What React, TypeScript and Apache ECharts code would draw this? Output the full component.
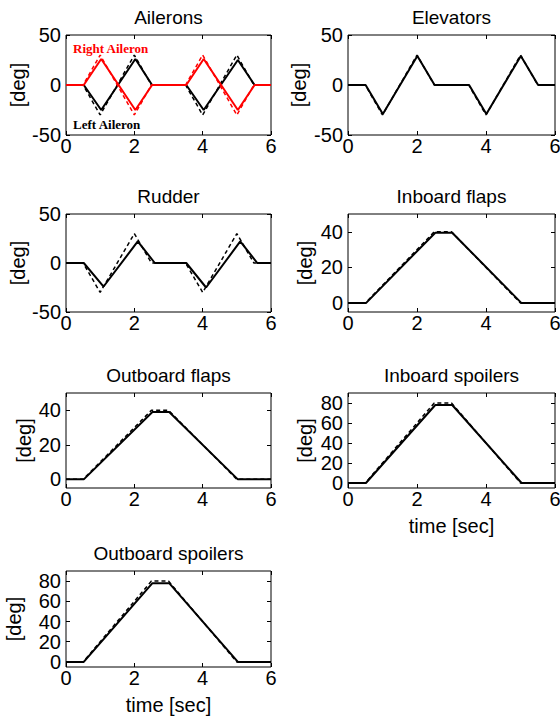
import React, { useEffect, useRef } from "react";
import * as echarts from "echarts";

// ---------------- data ----------------
const xTicks = [0, 2, 4, 6];
const tickSym = [-50, 0, 50];
const tickFlap = [0, 20, 40];
const tickSpoiler = [0, 20, 40, 60, 80];

// commanded surface deflections (dashed) and responses (solid)
const tCmdCycle = [0, 0.5, 1, 2, 2.5, 3.5, 4, 5, 5.5, 6];
const leftAileronCmd = [0, 0, -30, 30, 0, 0, -30, 30, 0, 0];
const rightAileronCmd = [0, 0, 30, -30, 0, 0, 30, -30, 0, 0];
const tAileronAct = [0, 0.52, 1.03, 2.03, 2.52, 3.52, 4.03, 5.03, 5.52, 6];
const leftAileronAct = [0, 0, -25, 26, 0, 0, -25, 25, 0, 0];
const rightAileronAct = [0, 0, 26, -25, 0, 0, 26, -25, 0, 0];

const elevatorCmd = [0, 0, -30, 30, 0, 0, -30, 30, 0, 0];
const tElevatorAct = [0, 0.51, 1.01, 2.01, 2.51, 3.51, 4.01, 5.01, 5.51, 6];
const elevatorAct = [0, 0, -29, 29, 0, 0, -29, 29, 0, 0];

const rudderCmd = [0, 0, -30, 30, 0, 0, -30, 30, 0, 0];
const tRudderAct = [0, 0.52, 1.1, 2.1, 2.6, 3.52, 4.1, 5.1, 5.6, 6];
const rudderAct = [0, 0, -24, 22, 0, 0, -25, 22, 0, 0];

const tRampCmd = [0, 0.5, 2.5, 3, 5, 6];
const tRampAct = [0, 0.52, 2.53, 3.02, 5.03, 6];
const inboardFlapCmd = [0, 0, 40, 40, 0, 0];
const inboardFlapAct = [0, 0, 39.5, 39.5, 0, 0];
const outboardFlapCmd = [0, 0, 40, 40, 0, 0];
const outboardFlapAct = [0, 0, 39, 39, 0, 0];
const inboardSpoilerCmd = [0, 0, 80, 80, 0, 0];
const inboardSpoilerAct = [0, 0, 78, 78, 0, 0];
const outboardSpoilerCmd = [0, 0, 80, 80, 0, 0];
const outboardSpoilerAct = [0, 0, 78, 78, 0, 0];

const titles = [
  "Ailerons",
  "Elevators",
  "Rudder",
  "Inboard flaps",
  "Outboard flaps",
  "Inboard spoilers",
  "Outboard spoilers",
];
const yLabel = "[deg]";
const xLabel = "time [sec]";

type S = { t: number[]; v: number[]; color: string; dashed: boolean };
const BLACK = "#000000";
const RED = "#ff0000";

const panels: { yMin: number; yMax: number; yTicks: number[]; series: S[] }[] = [
  {
    yMin: -50, yMax: 50, yTicks: tickSym,
    series: [
      { t: tCmdCycle, v: leftAileronCmd, color: BLACK, dashed: true },
      { t: tAileronAct, v: leftAileronAct, color: BLACK, dashed: false },
      { t: tCmdCycle, v: rightAileronCmd, color: RED, dashed: true },
      { t: tAileronAct, v: rightAileronAct, color: RED, dashed: false },
    ],
  },
  {
    yMin: -50, yMax: 50, yTicks: tickSym,
    series: [
      { t: tCmdCycle, v: elevatorCmd, color: BLACK, dashed: true },
      { t: tElevatorAct, v: elevatorAct, color: BLACK, dashed: false },
    ],
  },
  {
    yMin: -50, yMax: 50, yTicks: tickSym,
    series: [
      { t: tCmdCycle, v: rudderCmd, color: BLACK, dashed: true },
      { t: tRudderAct, v: rudderAct, color: BLACK, dashed: false },
    ],
  },
  {
    yMin: -5, yMax: 50, yTicks: tickFlap,
    series: [
      { t: tRampCmd, v: inboardFlapCmd, color: BLACK, dashed: true },
      { t: tRampAct, v: inboardFlapAct, color: BLACK, dashed: false },
    ],
  },
  {
    yMin: -5, yMax: 50, yTicks: tickFlap,
    series: [
      { t: tRampCmd, v: outboardFlapCmd, color: BLACK, dashed: true },
      { t: tRampAct, v: outboardFlapAct, color: BLACK, dashed: false },
    ],
  },
  {
    yMin: -5, yMax: 90, yTicks: tickSpoiler,
    series: [
      { t: tRampCmd, v: inboardSpoilerCmd, color: BLACK, dashed: true },
      { t: tRampAct, v: inboardSpoilerAct, color: BLACK, dashed: false },
    ],
  },
  {
    yMin: -5, yMax: 90, yTicks: tickSpoiler,
    series: [
      { t: tRampCmd, v: outboardSpoilerCmd, color: BLACK, dashed: true },
      { t: tRampAct, v: outboardSpoilerAct, color: BLACK, dashed: false },
    ],
  },
];

// ---------------- layout ----------------
const layout = [
  { left: 66, top: 35, width: 205, height: 100, ylabX: 18, xlab: false },
  { left: 348, top: 35, width: 207, height: 100, ylabX: 299, xlab: false },
  { left: 66, top: 214, width: 205, height: 98, ylabX: 17.5, xlab: false },
  { left: 348, top: 214, width: 207, height: 98, ylabX: 305, xlab: false },
  { left: 66, top: 393, width: 205, height: 95, ylabX: 23.5, xlab: false },
  { left: 348, top: 393, width: 207, height: 95, ylabX: 305, xlab: true },
  { left: 66, top: 571, width: 205, height: 96, ylabX: 13.5, xlab: true },
];

const SANS = "Liberation Sans, Arial, Helvetica, sans-serif";
const SERIF = "Liberation Serif, Times New Roman, serif";

function buildOption() {
  const grid: any[] = [];
  const xAxis: any[] = [];
  const yAxis: any[] = [];
  const series: any[] = [];
  const graphic: any[] = [];

  panels.forEach((p, i) => {
    const L = layout[i];
    grid.push({
      left: L.left, top: L.top, width: L.width, height: L.height,
      show: true, borderColor: BLACK, borderWidth: 1, backgroundColor: "transparent",
      containLabel: false, outerBoundsMode: "none",
    });
    const tickCommon = { show: true, inside: true, length: 4, lineStyle: { color: BLACK, width: 1 } };
    const noLine = { show: false, onZero: false };
    xAxis.push({
      gridIndex: i, type: "value", min: 0, max: 6, interval: 2, position: "bottom",
      axisLine: noLine, splitLine: { show: false },
      axisTick: { ...tickCommon, customValues: xTicks },
      axisLabel: { show: true, customValues: xTicks, fontSize: 20, color: BLACK, fontFamily: SANS, margin: 1 },
    });
    xAxis.push({
      gridIndex: i, type: "value", min: 0, max: 6, interval: 2, position: "top",
      axisLine: noLine, splitLine: { show: false },
      axisTick: { ...tickCommon, customValues: xTicks }, axisLabel: { show: false },
    });
    yAxis.push({
      gridIndex: i, type: "value", min: p.yMin, max: p.yMax, position: "left",
      axisLine: noLine, splitLine: { show: false },
      axisTick: { ...tickCommon, customValues: p.yTicks },
      axisLabel: { show: true, customValues: p.yTicks, fontSize: 20, color: BLACK, fontFamily: SANS, margin: 5 },
    });
    yAxis.push({
      gridIndex: i, type: "value", min: p.yMin, max: p.yMax, position: "right",
      axisLine: noLine, splitLine: { show: false },
      axisTick: { ...tickCommon, customValues: p.yTicks },
      axisLabel: { show: false },
    });
    p.series.forEach((s) => {
      series.push({
        type: "line",
        xAxisIndex: i * 2,
        yAxisIndex: i * 2,
        data: s.t.map((t, j) => [t, s.v[j]]),
        showSymbol: false,
        symbol: "none",
        silent: true,
        lineStyle: s.dashed
          ? { color: s.color, width: 1.5, type: [4, 3] }
          : { color: s.color, width: 2, type: "solid" },
      });
    });

    const cx = L.left + L.width / 2;
    graphic.push({
      type: "text", x: cx, y: L.top - 17.5, silent: true,
      style: { text: titles[i], textAlign: "center", textVerticalAlign: "middle", font: `19px ${SANS}`, fill: BLACK },
    });
    graphic.push({
      type: "text", x: L.ylabX, y: L.top + L.height / 2, rotation: Math.PI / 2, silent: true,
      style: { text: yLabel, textAlign: "center", textVerticalAlign: "middle", font: `20px ${SANS}`, fill: BLACK },
    });
    if (L.xlab) {
      graphic.push({
        type: "text", x: cx, y: L.top + L.height + 38, silent: true,
        style: { text: xLabel, textAlign: "center", textVerticalAlign: "middle", font: `20px ${SANS}`, fill: BLACK },
      });
    }
  });

  graphic.push({
    type: "text", x: 73, y: 48.5, silent: true,
    style: { text: "Right Aileron", textAlign: "left", textVerticalAlign: "middle", font: `bold 13px ${SERIF}`, fill: RED },
  });
  graphic.push({
    type: "text", x: 73, y: 124, silent: true,
    style: { text: "Left Aileron", textAlign: "left", textVerticalAlign: "middle", font: `bold 13px ${SERIF}`, fill: BLACK },
  });

  return {
    animation: false,
    backgroundColor: "#ffffff",
    grid, xAxis, yAxis, series, graphic,
  };
}

export default function App() {
  const ref = useRef<HTMLDivElement>(null);
  useEffect(() => {
    if (!ref.current) return;
    const chart = echarts.init(ref.current, undefined, { renderer: "svg" });
    chart.setOption(buildOption() as any);
    return () => chart.dispose();
  }, []);
  return (
    <div
      ref={ref}
      style={{ position: "absolute", left: 0, top: 0, width: 560, height: 716, background: "#fff" }}
    />
  );
}
